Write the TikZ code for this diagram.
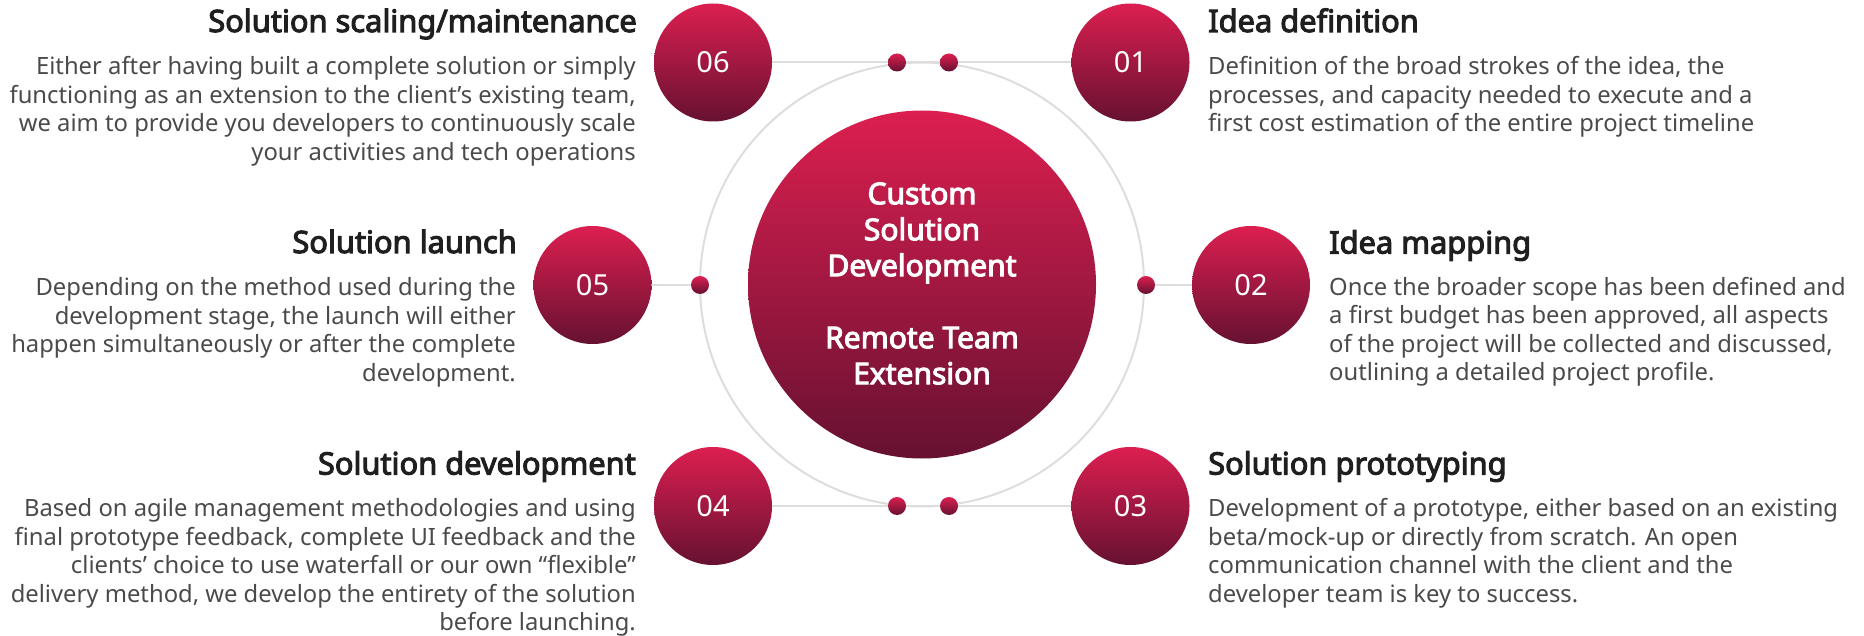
\documentclass[tikz,border=0pt]{standalone}
\usepackage{fontspec}
\setmainfont{Noto Sans}
\newfontfamily\hfont{Noto Sans}[FakeBold=3.4]
\usetikzlibrary{calc}
\definecolor{gtop}{HTML}{DC1F50}
\definecolor{gbot}{HTML}{661131}
\definecolor{ringc}{HTML}{DDDDDD}
\definecolor{headc}{HTML}{1F1F1F}
\definecolor{bodyc}{HTML}{4A4A4A}
\newcommand{\hs}{\rule{0pt}{20pt}}
\newcommand{\cs}{\rule{0pt}{24pt}}
\tikzset{
  grad/.style={circle, inner sep=0pt, top color=gtop, bottom color=gbot, draw=none},
  numc/.style={grad, minimum size=118pt, text=white, font=\fontsize{29}{30}\selectfont},
  bigc/.style={grad, minimum size=348pt},
  dotc/.style={grad, minimum size=18pt},
  conn/.style={draw=ringc, line width=2pt},
  ring/.style={draw=ringc, line width=2pt},
  headR/.style={anchor=base east, inner sep=0pt, text=headc, font=\fontsize{30.8}{32}\hfont},
  headL/.style={anchor=base west, inner sep=0pt, text=headc, font=\fontsize{30.8}{32}\hfont},
  bodyR/.style={anchor=north east, inner sep=0pt, align=right, text=bodyc, font=\fontsize{23.8}{28.5}\selectfont},
  bodyL/.style={anchor=north west, inner sep=0pt, align=left, text=bodyc, font=\fontsize{23.8}{28.5}\selectfont},
  ctext/.style={anchor=north, inner sep=0pt, align=center, text=white, font=\fontsize{30}{36}\hfont}
}
\begin{document}
\begin{tikzpicture}[x=1pt, y=-1pt]
\useasboundingbox (0,0) rectangle (1864,636);
\coordinate (ctr) at (922,284.5);
\draw[ring] (ctr) circle[radius=222];
% central circle
\node[bigc] (big) at (ctr) {};
\node[ctext] (bigtext) at (922,180) {\cs Custom\\Solution\\Development\\[36pt]Remote Team\\Extension};
% number circles
\node[numc] (n06) at (713,62.5) {06};
\node[numc] (n01) at (1130.5,62.5) {01};
\node[numc] (n05) at (592.5,285) {05};
\node[numc] (n02) at (1251,285) {02};
\node[numc] (n04) at (713,506) {04};
\node[numc] (n03) at (1130.5,506) {03};
% dots
\node[dotc] (dtl) at (897,62.5) {};
\node[dotc] (dtr) at (949,62.5) {};
\node[dotc] (dl) at (700,285) {};
\node[dotc] (dr) at (1146,285) {};
\node[dotc] (dbl) at (897,506) {};
\node[dotc] (dbr) at (949,506) {};
% connectors
\draw[conn] (n06) -- (dtl);
\draw[conn] (dtl) -- (dtr);
\draw[conn] (dtr) -- (n01);
\draw[conn] (n05) -- (dl);
\draw[conn] (dr) -- (n02);
\draw[conn] (n04) -- (dbl);
\draw[conn] (dbl) -- (dbr);
\draw[conn] (dbr) -- (n03);
% left texts
\node[headR] (h06) at (637,32) {Solution scaling/maintenance};
\node[bodyR] (b06) at (636,54.5) {\hs Either after having built a complete solution or simply\\functioning as an extension to the client's existing team,\\we aim to provide you developers to continuously scale\\your activities and tech operations};
\node[headR] (h05) at (517,253) {Solution launch};
\node[bodyR] (b05) at (516,275.5) {\hs Depending on the method used during the\\development stage, the launch will either\\happen simultaneously or after the complete\\development.};
\node[headR] (h04) at (636,474.5) {Solution development};
\node[bodyR] (b04) at (636,496.5) {\hs Based on agile management methodologies and using\\final prototype feedback, complete UI feedback and the\\clients' choice to use waterfall or our own “flexible”\\delivery method, we develop the entirety of the solution\\before launching.};
% right texts
\node[headL] (h01) at (1208,32) {Idea definition};
\node[bodyL] (b01) at (1208,54.5) {\hs Definition of the broad strokes of the idea, the\\processes, and capacity needed to execute and a\\first cost estimation of the entire project timeline};
\node[headL] (h02) at (1329,253.5) {Idea mapping};
\node[bodyL] (b02) at (1329,275) {\hs Once the broader scope has been defined and\\a first budget has been approved, all aspects\\of the project will be collected and discussed,\\outlining a detailed project profile.};
\node[headL] (h03) at (1208,474.5) {Solution prototyping};
\node[bodyL] (b03) at (1208,496.5) {\hs Development of a prototype, either based on an existing\\beta/mock-up or directly from scratch. An open\\communication channel with the client and the\\developer team is key to success.};
\end{tikzpicture}
\end{document}
